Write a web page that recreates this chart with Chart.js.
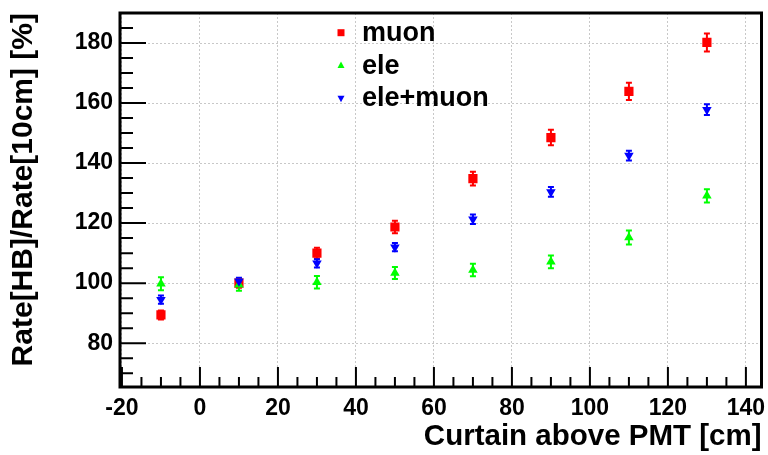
<!DOCTYPE html>
<html>
<head>
<meta charset="utf-8">
<script src="https://cdn.jsdelivr.net/npm/chart.js@4.4.0/dist/chart.umd.min.js"></script>
<style>
  html, body { margin: 0; padding: 0; background: #fff; }
</style>
</head>
<body>
<canvas id="c" width="768" height="455"></canvas>
<script>
// curtain height above the PMT [cm]
var curtain = [-10, 10, 30, 50, 70, 90, 110, 130];

// rate ratio [%] and errors, per particle sample
var muon    = [89.4, 100.0, 110.0, 118.7, 134.8, 148.5, 163.9, 180.2];
var muonErr = [1.5, 1.5, 1.8, 2.1, 2.3, 2.6, 2.9, 3.0];
var ele     = [99.8, 99.5, 100.3, 103.4, 104.4, 107.1, 115.2, 129.1];
var eleErr  = [2.2, 2.0, 2.1, 2.0, 2.1, 2.1, 2.3, 2.2];
var both    = [94.5, 100.6, 106.6, 112.0, 121.3, 130.4, 142.5, 157.8];
var bothErr = [1.4, 1.2, 1.4, 1.4, 1.6, 1.6, 1.6, 1.8];

var xTicks = [-20, 0, 20, 40, 60, 80, 100, 120, 140];
var yTicks = [80, 100, 120, 140, 160, 180];

var FONT = '"Liberation Sans", Arial, Helvetica, sans-serif';
Chart.defaults.font.family = FONT;
Chart.defaults.color = '#000';

function pts(vals) {
  return curtain.map(function (x, i) { return { x: x, y: vals[i] }; });
}

// ROOT look: thick frame, inward ticks, error bars, legend in the pad
var rootStyle = {
  id: 'rootStyle',
  beforeDatasetsDraw: function (chart) {
    var ctx = chart.ctx, ys = chart.scales.y;
    chart.data.datasets.forEach(function (ds, i) {
      var meta = chart.getDatasetMeta(i);
      ctx.save();
      ctx.strokeStyle = ds.borderColor;
      ctx.lineWidth = 2;
      meta.data.forEach(function (pt, j) {
        var v = ds.data[j].y, e = ds.err[j];
        var t = ys.getPixelForValue(v + e), b = ys.getPixelForValue(v - e);
        ctx.beginPath();
        ctx.moveTo(pt.x, t); ctx.lineTo(pt.x, b);
        ctx.moveTo(pt.x - 3, t); ctx.lineTo(pt.x + 3, t);
        ctx.moveTo(pt.x - 3, b); ctx.lineTo(pt.x + 3, b);
        ctx.stroke();
      });
      ctx.restore();
    });
  },
  afterDraw: function (chart) {
    var ctx = chart.ctx, a = chart.chartArea;
    var xs = chart.scales.x, ys = chart.scales.y;
    ctx.save();
    ctx.strokeStyle = '#000';
    ctx.lineWidth = 2;
    ctx.beginPath();
    var v, p, len;
    // x ticks, every 5, major every 20
    for (v = -20; v <= xs.max; v += 5) {
      p = xs.getPixelForValue(v);
      len = (v % 20 === 0) ? 20 : 10;
      ctx.moveTo(p, a.bottom); ctx.lineTo(p, a.bottom - len);
    }
    // y ticks
    for (v = 70; v <= ys.max; v += 5) {
      p = ys.getPixelForValue(v);
      len = (v % 20 === 0) ? 26 : 13;
      ctx.moveTo(a.left, p); ctx.lineTo(a.left + len, p);
    }
    ctx.stroke();
    // frame
    ctx.lineWidth = 3;
    ctx.strokeRect(a.left, a.top, a.right - a.left, a.bottom - a.top);

    // legend
    var rows = [
      { ds: chart.data.datasets[0], y: 40.7, mk: 'rect' },
      { ds: chart.data.datasets[1], y: 73.5, mk: 'up' },
      { ds: chart.data.datasets[2], y: 106.2, mk: 'down' }
    ];
    ctx.font = 'bold 27px ' + FONT;
    ctx.textBaseline = 'alphabetic';
    ctx.textAlign = 'left';
    rows.forEach(function (r) {
      var cx = 341, cy = r.y - 8;
      ctx.fillStyle = r.ds.backgroundColor;
      ctx.beginPath();
      if (r.mk === 'rect') {
        ctx.rect(cx - 3.5, cy - 3.5, 7, 7);
      } else if (r.mk === 'up') {
        ctx.moveTo(cx, cy - 4); ctx.lineTo(cx + 3.5, cy + 2.5); ctx.lineTo(cx - 3.5, cy + 2.5);
      } else {
        ctx.moveTo(cx, cy + 4); ctx.lineTo(cx + 3.5, cy - 2.5); ctx.lineTo(cx - 3.5, cy - 2.5);
      }
      ctx.closePath();
      ctx.fill();
      ctx.fillStyle = '#000';
      ctx.fillText(r.ds.label, 362, r.y);
    });
    ctx.restore();
  }
};

var gridOpts = { color: '#c8c8c8', lineWidth: 1, drawTicks: false };
var borderOpts = { display: false, dash: [2, 2] };

new Chart(document.getElementById('c'), {
  type: 'scatter',
  data: {
    datasets: [
      { label: 'muon', data: pts(muon), err: muonErr, pointStyle: 'rect', pointRadius: 6.5,
        backgroundColor: '#ff0000', borderColor: '#ff0000', borderWidth: 0, order: 2 },
      { label: 'ele', data: pts(ele), err: eleErr, pointStyle: 'triangle', pointRadius: 5.5,
        backgroundColor: '#00ff00', borderColor: '#00ff00', borderWidth: 0, order: 1 },
      { label: 'ele+muon', data: pts(both), err: bothErr, pointStyle: 'triangle', rotation: 180, pointRadius: 5.5,
        backgroundColor: '#0000ff', borderColor: '#0000ff', borderWidth: 0, order: 0 }
    ]
  },
  options: {
    responsive: false,
    animation: false,
    events: [],
    layout: { padding: { left: 0, right: 6, top: 13, bottom: 0 } },
    plugins: { legend: { display: false }, tooltip: { enabled: false } },
    scales: {
      x: {
        type: 'linear', min: -20.5, max: 144,
        afterBuildTicks: function (s) { s.ticks = xTicks.map(function (v) { return { value: v }; }); },
        afterFit: function (s) { s.height = 68; s.paddingLeft = 0; s.paddingRight = 0; },
        grid: gridOpts, border: borderOpts,
        ticks: { font: { size: 23, weight: 'bold' }, color: '#000', padding: 8, maxRotation: 0, autoSkip: false },
        title: { display: true, text: 'Curtain above PMT [cm]', align: 'end', color: '#000',
                 font: { size: 29.5, weight: 'bold' }, padding: 0 }
      },
      y: {
        type: 'linear', min: 65.4, max: 190,
        afterBuildTicks: function (s) { s.ticks = yTicks.map(function (v) { return { value: v }; }); },
        afterFit: function (s) { s.width = 120; s.paddingTop = 0; s.paddingBottom = 0; },
        grid: gridOpts, border: borderOpts,
        ticks: { font: { size: 23, weight: 'bold' }, color: '#000', padding: 7, autoSkip: false },
        title: { display: true, text: 'Rate[HB]/Rate[10cm] [%]', align: 'end', color: '#000',
                 font: { size: 30, weight: 'bold' }, padding: { top: 6, bottom: 0 } }
      }
    }
  },
  plugins: [rootStyle]
});
</script>
</body>
</html>
